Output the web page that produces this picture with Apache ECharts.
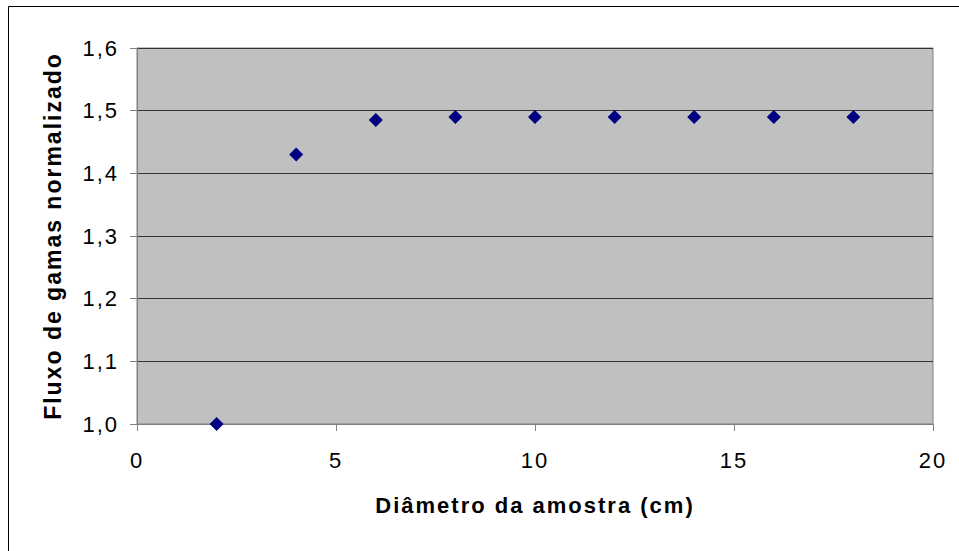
<!DOCTYPE html>
<html><head><meta charset="utf-8">
<script src="https://cdn.jsdelivr.net/npm/echarts@6/dist/echarts.min.js"></script>
<style>html,body{margin:0;padding:0;background:#fff}#c{width:959px;height:551px}
#c svg text{letter-spacing:2px}</style>
</head><body><div id="c"></div>
<script>
var xValues = [2, 4, 6, 8, 10, 12, 14, 16, 18];
var yValues = [1.0, 1.43, 1.485, 1.49, 1.49, 1.49, 1.49, 1.49, 1.49];
var xTitle = 'Diâmetro da amostra (cm)';
var yTitle = 'Fluxo de gamas normalizado';

var chart = echarts.init(document.getElementById('c'), null, {renderer: 'svg'});
var font = 'Liberation Sans, Arial, sans-serif';
chart.setOption({
  animation: false,
  backgroundColor: '#fff',
  graphic: [{type: 'rect', shape: {x: 8.5, y: 6.5, width: 960, height: 560}, style: {fill: 'none', stroke: '#000', lineWidth: 1}, z: -1}],
  grid: {left: 137, top: 48, width: 796, height: 376, backgroundColor: '#C0C0C0', show: true, borderWidth: 1, borderColor: '#808080'},
  xAxis: {
    type: 'value', min: 0, max: 20, interval: 5,
    name: xTitle, nameLocation: 'middle', nameGap: 70,
    nameTextStyle: {fontFamily: font, fontSize: 22, fontWeight: 'bold', color: '#000'},
    axisLine: {show: true, lineStyle: {color: '#808080', width: 1}},
    axisTick: {show: true, length: 7, lineStyle: {color: '#808080'}},
    axisLabel: {fontFamily: font, fontSize: 22, color: '#000', margin: 25},
    splitLine: {show: false}
  },
  yAxis: {
    type: 'value', min: 1.0, max: 1.6, interval: 0.1,
    name: yTitle, nameLocation: 'middle', nameGap: 73, nameRotate: 90,
    nameTextStyle: {fontFamily: font, fontSize: 23, fontWeight: 'bold', color: '#000'},
    axisLine: {show: true, lineStyle: {color: '#808080', width: 1}},
    axisTick: {show: true, length: 7, lineStyle: {color: '#808080'}},
    axisLabel: {fontFamily: font, fontSize: 22, color: '#000', margin: 18,
      formatter: function (v) { return v.toFixed(1).replace('.', ','); }},
    splitLine: {show: true, lineStyle: {color: '#333', width: 1}}
  },
  series: [{
    type: 'scatter',
    symbol: 'diamond', symbolSize: 14,
    itemStyle: {color: '#000080', opacity: 1},
    data: xValues.map(function (x, i) { return [x, yValues[i]]; }),
    z: 5
  }]
});
</script></body></html>
